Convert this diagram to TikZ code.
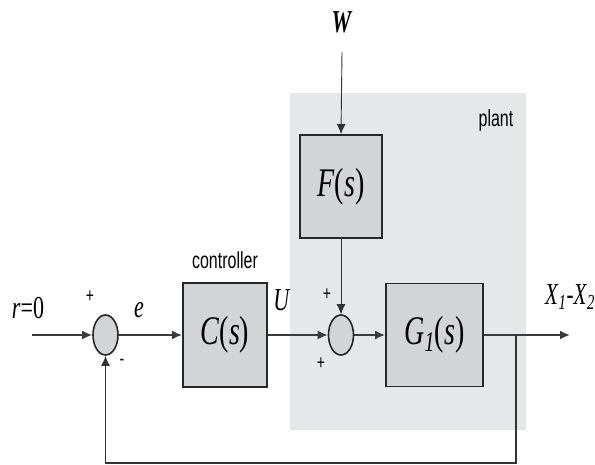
\documentclass[tikz,border=0pt]{standalone}
\usepackage{graphicx}
\usepackage{fontspec}
\setmainfont{Liberation Serif}
\setsansfont{Liberation Sans}
\usepackage{tikz}
\usetikzlibrary{arrows.meta, shapes.geometric, positioning}
\usepackage{xcolor}

\definecolor{plantgray}{HTML}{E6E7E9}
\definecolor{blockgray}{HTML}{D3D4D6}
\definecolor{wiregray}{HTML}{3A3A3A}

% the reference is stretched in height, so the text is too
\newcommand{\tallt}[1]{\scalebox{1}[1.45]{#1}}

\begin{document}
\begin{tikzpicture}[
	x=1pt, y=-1pt,
	>={Latex[length=10pt,width=9pt]},
	block/.style={draw=black!85, line width=1.8pt, fill=blockgray, inner sep=0pt,
		font=\fontsize{28}{30}\selectfont},
	junction/.style={ellipse, draw=black!85, line width=1.6pt, fill=blockgray,
		minimum width=25, minimum height=40, inner sep=0pt},
	plant area/.style={fill=plantgray, inner sep=0pt},
	signal/.style={wiregray, line width=1.8pt},
	thin signal/.style={black!80, line width=0.9pt},
	math label/.style={font=\fontsize{22}{24}\selectfont, inner sep=0pt},
	word label/.style={font=\sffamily\fontsize{16}{18}\selectfont, inner sep=0pt},
	sign/.style={font=\sffamily\fontsize{14}{15}\selectfont, inner sep=0pt}
	]
	\useasboundingbox (0,0) rectangle (595,465);

	% =====================================================
	% PLANT AREA
	% =====================================================
	\node[plant area, minimum width=236, minimum height=337] (plantArea) at (408,261.5) {};
	\node[word label] (plantLbl) at (496,121) {\tallt{plant}};

	% =====================================================
	% BLOCKS AND JUNCTIONS
	% =====================================================
	\node[junction] (sumIn) at (105.5,335) {};
	\node[block, minimum width=84, minimum height=104] (ctrl) at (225,335) {\tallt{\textit{C}(\textit{s})}};
	\node[junction] (sumPlant) at (341,335) {};
	\node[block, minimum width=82, minimum height=103] (dist) at (341,186.5) {\tallt{\textit{F}(\textit{s})}};
	\node[block, minimum width=97, minimum height=103] (plantG) at (434.5,335) {\tallt{\textit{G}\textsubscript{\textit{1}}(\textit{s})}};

	% =====================================================
	% FREE ENDS
	% =====================================================
	\coordinate (inStart) at (32,335);
	\coordinate (wStart) at (342,52);
	\coordinate (outEnd) at (570,335);
	\coordinate (branch) at (516,335);
	\coordinate (fbCorner) at (516,463);

	% =====================================================
	% SIGNALS
	% =====================================================
	\draw[signal, ->] (inStart) -- (sumIn.west);
	\draw[signal, ->] (sumIn.east) -- (ctrl.west);
	\draw[signal, ->] (ctrl.east) -- (sumPlant.west);
	\draw[signal, ->] (sumPlant.east) -- (plantG.west);
	\draw[signal, ->] (plantG.east) -- (outEnd);
	\draw[thin signal, ->] (wStart) -- (dist.north);
	\draw[thin signal, ->] (dist.south) -- (sumPlant.north);
	\draw[thin signal, line width=1.4pt, ->] (branch) -- (fbCorner) -| (sumIn.south);

	% =====================================================
	% LABELS
	% =====================================================
	\node[math label] (rLbl) at (28,308) {\tallt{\textit{r}=0}};
	\node[math label] (eLbl) at (139,310) {\tallt{\textit{e}}};
	\node[math label] (uLbl) at (282,300) {\tallt{\textit{U}}};
	\node[math label] (wLbl) at (342,22) {\tallt{\textbf{\textit{W}}}};
	\node[math label, font=\fontsize{21}{23}\selectfont, anchor=west] (xLbl) at (545,297) {\tallt{\textit{X}\textsubscript{\textit{1}}-\textit{X}\textsubscript{\textit{2}}}};
	\node[word label] (ctrlLbl) at (225,260) {\tallt{controller}};

	\node[sign] (plusIn) at (90,297) {\tallt{+}};
	\node[sign] (minusIn) at (122,362) {\tallt{-}};
	\node[sign] (plusTop) at (327,295) {\tallt{+}};
	\node[sign] (plusLow) at (321,364) {\tallt{+}};

\end{tikzpicture}
\end{document}
